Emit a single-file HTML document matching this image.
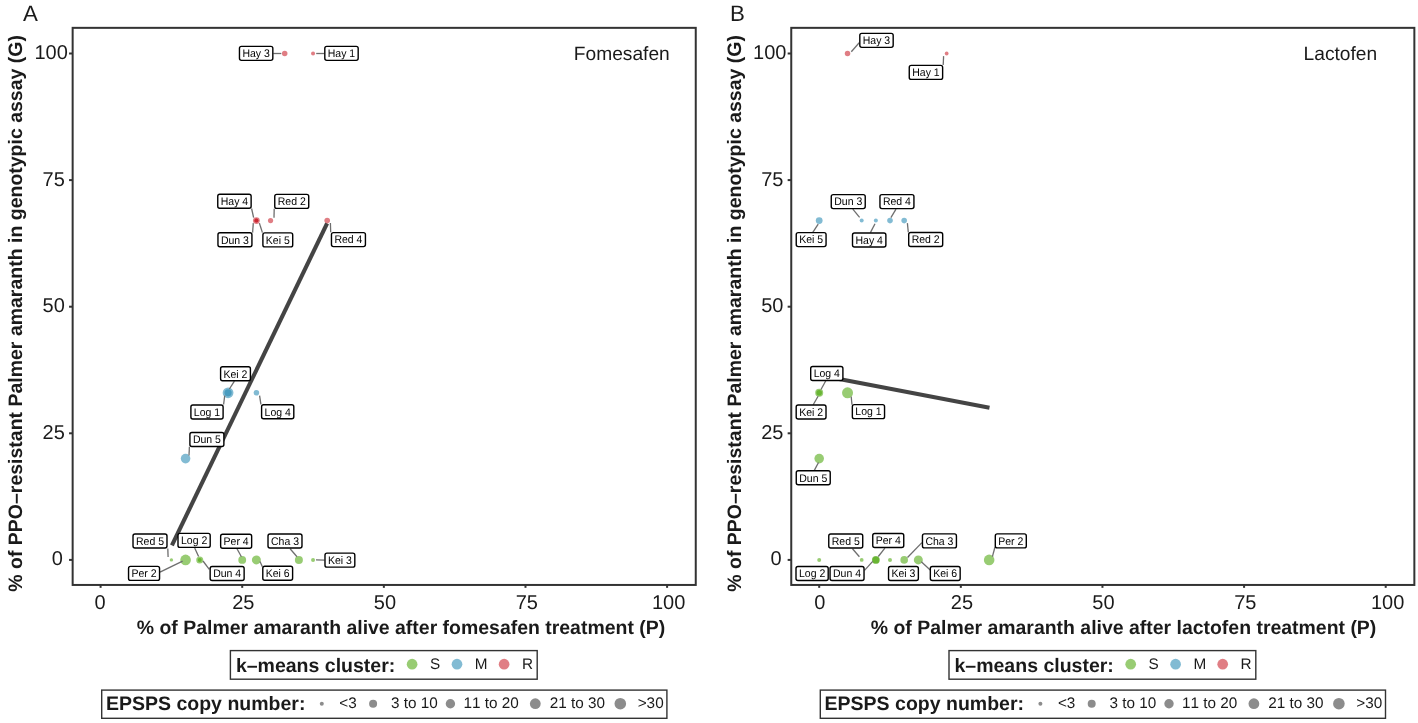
<!DOCTYPE html>
<html><head><meta charset="utf-8"><title>PPO resistance: genotypic vs phenotypic</title>
<style>html,body{margin:0;padding:0;background:#fff}svg{display:block}text{font-family:"Liberation Sans",sans-serif;font-kerning:none;font-variant-ligatures:none}</style>
</head><body><div style="will-change:transform;width:1418px;height:723px">
<svg width="1418" height="723" viewBox="0 0 1418 723" style="transform:translateZ(0)" text-rendering="geometricPrecision">
<rect width="1418" height="723" fill="#fff"/>
<g id="panelA">
<rect x="72.65" y="27.85" width="623.1" height="557.1" fill="none" stroke="#333333" stroke-width="2"/>
<line x1="69.05" y1="559.9" x2="72.65" y2="559.9" stroke="#333333" stroke-width="2"/>
<line x1="100.6" y1="584.95" x2="100.6" y2="587.85" stroke="#333333" stroke-width="2"/>
<line x1="69.05" y1="433.3" x2="72.65" y2="433.3" stroke="#333333" stroke-width="2"/>
<line x1="242.22" y1="584.95" x2="242.22" y2="587.85" stroke="#333333" stroke-width="2"/>
<line x1="69.05" y1="306.7" x2="72.65" y2="306.7" stroke="#333333" stroke-width="2"/>
<line x1="383.85" y1="584.95" x2="383.85" y2="587.85" stroke="#333333" stroke-width="2"/>
<line x1="69.05" y1="180.1" x2="72.65" y2="180.1" stroke="#333333" stroke-width="2"/>
<line x1="525.48" y1="584.95" x2="525.48" y2="587.85" stroke="#333333" stroke-width="2"/>
<line x1="69.05" y1="53.5" x2="72.65" y2="53.5" stroke="#333333" stroke-width="2"/>
<line x1="667.1" y1="584.95" x2="667.1" y2="587.85" stroke="#333333" stroke-width="2"/>
<text x="62.9" y="564.8" font-size="20.0" text-anchor="end" fill="#1a1a1a">0</text>
<text x="64.8" y="439" font-size="20.0" text-anchor="end" fill="#1a1a1a">25</text>
<text x="64.8" y="312" font-size="20.0" text-anchor="end" fill="#1a1a1a">50</text>
<text x="64.8" y="185.9" font-size="20.0" text-anchor="end" fill="#1a1a1a">75</text>
<text x="67.8" y="58.7" font-size="20.0" text-anchor="end" fill="#1a1a1a">100</text>
<text x="100.1" y="608.9" font-size="20.0" text-anchor="middle" fill="#1a1a1a">0</text>
<text x="243.3" y="608.9" font-size="20.0" text-anchor="middle" fill="#1a1a1a">25</text>
<text x="384.9" y="608.9" font-size="20.0" text-anchor="middle" fill="#1a1a1a">50</text>
<text x="526.8" y="608.9" font-size="20.0" text-anchor="middle" fill="#1a1a1a">75</text>
<text x="668.6" y="608.9" font-size="20.0" text-anchor="middle" fill="#1a1a1a">100</text>
<text x="136.8" y="633.9" font-size="19.45" font-weight="bold" textLength="528.4" lengthAdjust="spacing" fill="#1a1a1a">% of Palmer amaranth alive after fomesafen treatment (P)</text>
<text transform="translate(22.2,591.7) rotate(-90)" font-size="19.45" font-weight="bold" textLength="556.6" lengthAdjust="spacing" fill="#1a1a1a">% of PPO–resistant Palmer amaranth in genotypic assay (G)</text>
<text x="621.78" y="59.7" font-size="19.2" text-anchor="middle" fill="#1a1a1a">Fomesafen</text>
<text x="23.1" y="21" font-size="22.3" fill="#1a1a1a">A</text>
<rect x="230.4" y="650.6" width="306.8" height="28.6" fill="#fff" stroke="#333333" stroke-width="1.4"/>
<text x="235.9" y="671.5" font-size="19.5" font-weight="bold" fill="#1a1a1a">k–means cluster:</text>
<circle cx="412.1" cy="664.2" r="5.35" fill="#44A200" fill-opacity="0.55"/>
<text x="430" y="669.0" font-size="15.3" fill="#1a1a1a">S</text>
<circle cx="457" cy="664.2" r="5.35" fill="#1C83AF" fill-opacity="0.55"/>
<text x="474.8" y="669.0" font-size="15.3" fill="#1a1a1a">M</text>
<circle cx="504.1" cy="664.2" r="5.35" fill="#C7141F" fill-opacity="0.55"/>
<text x="521.9" y="669.0" font-size="15.3" fill="#1a1a1a">R</text>
<rect x="101.7" y="690.1" width="565.2" height="28.2" fill="#fff" stroke="#333333" stroke-width="1.4"/>
<text x="106" y="710.4" font-size="19.5" font-weight="bold" fill="#1a1a1a">EPSPS copy number:</text>
<circle cx="321.8" cy="703.7" r="2.0" fill="#8c8c8c"/>
<text x="339.3" y="708.1" font-size="15.3" fill="#1a1a1a">&lt;3</text>
<circle cx="373.1" cy="703.7" r="4.0" fill="#8c8c8c"/>
<text x="390.9" y="708.1" font-size="15.3" fill="#1a1a1a">3 to 10</text>
<circle cx="450.4" cy="703.7" r="4.7" fill="#8c8c8c"/>
<text x="463.4" y="708.1" font-size="15.3" fill="#1a1a1a">11 to 20</text>
<circle cx="535.3" cy="703.7" r="5.4" fill="#8c8c8c"/>
<text x="549.7" y="708.1" font-size="15.3" fill="#1a1a1a">21 to 30</text>
<circle cx="620.3" cy="703.7" r="5.8" fill="#8c8c8c"/>
<text x="637.7" y="708.1" font-size="15.3" fill="#1a1a1a">&gt;30</text>
<line x1="171.9" y1="545.4" x2="327.1" y2="223.3" stroke="#444444" stroke-width="4.1"/>
<circle cx="284.71" cy="53.5" r="2.75" fill="#C7141F" fill-opacity="0.55"/>
<circle cx="313.04" cy="53.5" r="2.0" fill="#C7141F" fill-opacity="0.55"/>
<circle cx="256.39" cy="220.61" r="3.4" fill="#C7141F" fill-opacity="0.55"/>
<circle cx="256.39" cy="220.61" r="2.0" fill="#C7141F" fill-opacity="0.55"/>
<circle cx="256.39" cy="220.61" r="2.0" fill="#C7141F" fill-opacity="0.55"/>
<circle cx="270.55" cy="220.61" r="2.6" fill="#C7141F" fill-opacity="0.55"/>
<circle cx="327.2" cy="220.61" r="2.8" fill="#C7141F" fill-opacity="0.55"/>
<circle cx="228.06" cy="392.79" r="5.4" fill="#1C83AF" fill-opacity="0.55"/>
<circle cx="228.06" cy="392.79" r="3.6" fill="#1C83AF" fill-opacity="0.55"/>
<circle cx="256.39" cy="392.79" r="2.8" fill="#1C83AF" fill-opacity="0.55"/>
<circle cx="185.57" cy="458.62" r="4.8" fill="#1C83AF" fill-opacity="0.55"/>
<circle cx="171.41" cy="559.9" r="1.7" fill="#44A200" fill-opacity="0.55"/>
<circle cx="185.57" cy="559.9" r="5.3" fill="#44A200" fill-opacity="0.55"/>
<circle cx="199.74" cy="559.9" r="3.5" fill="#44A200" fill-opacity="0.55"/>
<circle cx="199.74" cy="559.9" r="2.0" fill="#44A200" fill-opacity="0.55"/>
<circle cx="242.22" cy="559.9" r="3.9" fill="#44A200" fill-opacity="0.55"/>
<circle cx="256.39" cy="559.9" r="4.5" fill="#44A200" fill-opacity="0.55"/>
<circle cx="298.88" cy="559.9" r="4.0" fill="#44A200" fill-opacity="0.55"/>
<circle cx="313.04" cy="559.9" r="2.0" fill="#44A200" fill-opacity="0.55"/>
<line x1="273.3" y1="53.5" x2="281.3" y2="53.5" stroke="#6e6e6e" stroke-width="1.3"/>
<line x1="324.3" y1="53.5" x2="316.2" y2="53.5" stroke="#6e6e6e" stroke-width="1.3"/>
<line x1="251.6" y1="208.5" x2="253.6" y2="217.6" stroke="#6e6e6e" stroke-width="1.3"/>
<line x1="252.6" y1="232.6" x2="253.3" y2="223.1" stroke="#6e6e6e" stroke-width="1.3"/>
<line x1="262.4" y1="232.6" x2="259.4" y2="223.1" stroke="#6e6e6e" stroke-width="1.3"/>
<line x1="274.2" y1="208.7" x2="274" y2="217.7" stroke="#6e6e6e" stroke-width="1.3"/>
<line x1="330.7" y1="232.3" x2="330.4" y2="223.1" stroke="#6e6e6e" stroke-width="1.3"/>
<line x1="234.4" y1="381.2" x2="229.4" y2="389" stroke="#6e6e6e" stroke-width="1.3"/>
<line x1="223.6" y1="404.5" x2="224.7" y2="395.7" stroke="#6e6e6e" stroke-width="1.3"/>
<line x1="260.9" y1="404.3" x2="259.6" y2="395.7" stroke="#6e6e6e" stroke-width="1.3"/>
<line x1="189.4" y1="446.8" x2="189" y2="455.5" stroke="#6e6e6e" stroke-width="1.3"/>
<line x1="167.8" y1="548.4" x2="168.1" y2="557" stroke="#6e6e6e" stroke-width="1.3"/>
<line x1="160" y1="572.2" x2="182.6" y2="561.1" stroke="#6e6e6e" stroke-width="1.3"/>
<line x1="194.7" y1="548" x2="198.6" y2="556.6" stroke="#6e6e6e" stroke-width="1.3"/>
<line x1="209.3" y1="569.3" x2="203" y2="561" stroke="#6e6e6e" stroke-width="1.3"/>
<line x1="237" y1="548.8" x2="241.4" y2="556.7" stroke="#6e6e6e" stroke-width="1.3"/>
<line x1="262.4" y1="566.8" x2="260" y2="561.5" stroke="#6e6e6e" stroke-width="1.3"/>
<line x1="290.1" y1="548.8" x2="297" y2="556.7" stroke="#6e6e6e" stroke-width="1.3"/>
<line x1="324.5" y1="560.1" x2="316" y2="559.9" stroke="#6e6e6e" stroke-width="1.3"/>
<rect x="239.46" y="46.35" width="33.37" height="14" rx="2.0" ry="2.0" fill="#fff" stroke="#000" stroke-width="1.4"/>
<text x="256.15" y="57.15" font-size="11.1" text-anchor="middle" textLength="27.43" lengthAdjust="spacingAndGlyphs" fill="#000">Hay 3</text>
<rect x="324.81" y="46.35" width="33.37" height="14" rx="2.0" ry="2.0" fill="#fff" stroke="#000" stroke-width="1.4"/>
<text x="341.5" y="57.15" font-size="11.1" text-anchor="middle" textLength="27.43" lengthAdjust="spacingAndGlyphs" fill="#000">Hay 1</text>
<rect x="217.76" y="194.3" width="33.37" height="14" rx="2.0" ry="2.0" fill="#fff" stroke="#000" stroke-width="1.4"/>
<text x="234.45" y="205.1" font-size="11.1" text-anchor="middle" textLength="27.43" lengthAdjust="spacingAndGlyphs" fill="#000">Hay 4</text>
<rect x="274.76" y="194.4" width="33.97" height="14" rx="2.0" ry="2.0" fill="#fff" stroke="#000" stroke-width="1.4"/>
<text x="291.75" y="205.2" font-size="11.1" text-anchor="middle" textLength="28.02" lengthAdjust="spacingAndGlyphs" fill="#000">Red 2</text>
<rect x="217.96" y="232.75" width="33.97" height="14" rx="2.0" ry="2.0" fill="#fff" stroke="#000" stroke-width="1.4"/>
<text x="234.95" y="243.55" font-size="11.1" text-anchor="middle" textLength="28.02" lengthAdjust="spacingAndGlyphs" fill="#000">Dun 3</text>
<rect x="262.89" y="232.9" width="29.82" height="14" rx="2.0" ry="2.0" fill="#fff" stroke="#000" stroke-width="1.4"/>
<text x="277.8" y="243.7" font-size="11.1" text-anchor="middle" textLength="23.93" lengthAdjust="spacingAndGlyphs" fill="#000">Kei 5</text>
<rect x="331.46" y="232.6" width="33.97" height="14" rx="2.0" ry="2.0" fill="#fff" stroke="#000" stroke-width="1.4"/>
<text x="348.45" y="243.4" font-size="11.1" text-anchor="middle" textLength="28.02" lengthAdjust="spacingAndGlyphs" fill="#000">Red 4</text>
<rect x="220.59" y="366.75" width="29.82" height="14" rx="2.0" ry="2.0" fill="#fff" stroke="#000" stroke-width="1.4"/>
<text x="235.5" y="377.55" font-size="11.1" text-anchor="middle" textLength="23.93" lengthAdjust="spacingAndGlyphs" fill="#000">Kei 2</text>
<rect x="190.9" y="404.95" width="32.2" height="14" rx="2.0" ry="2.0" fill="#fff" stroke="#000" stroke-width="1.4"/>
<text x="207" y="415.75" font-size="11.1" text-anchor="middle" textLength="26.28" lengthAdjust="spacingAndGlyphs" fill="#000">Log 1</text>
<rect x="261.6" y="404.8" width="32.2" height="14" rx="2.0" ry="2.0" fill="#fff" stroke="#000" stroke-width="1.4"/>
<text x="277.7" y="415.6" font-size="11.1" text-anchor="middle" textLength="26.28" lengthAdjust="spacingAndGlyphs" fill="#000">Log 4</text>
<rect x="189.91" y="432.5" width="33.97" height="14" rx="2.0" ry="2.0" fill="#fff" stroke="#000" stroke-width="1.4"/>
<text x="206.9" y="443.3" font-size="11.1" text-anchor="middle" textLength="28.02" lengthAdjust="spacingAndGlyphs" fill="#000">Dun 5</text>
<rect x="133.01" y="534.05" width="33.97" height="14" rx="2.0" ry="2.0" fill="#fff" stroke="#000" stroke-width="1.4"/>
<text x="150" y="544.85" font-size="11.1" text-anchor="middle" textLength="28.02" lengthAdjust="spacingAndGlyphs" fill="#000">Red 5</text>
<rect x="178" y="533.4" width="32.2" height="14" rx="2.0" ry="2.0" fill="#fff" stroke="#000" stroke-width="1.4"/>
<text x="194.1" y="544.2" font-size="11.1" text-anchor="middle" textLength="26.28" lengthAdjust="spacingAndGlyphs" fill="#000">Log 2</text>
<rect x="220.65" y="534.25" width="31" height="14" rx="2.0" ry="2.0" fill="#fff" stroke="#000" stroke-width="1.4"/>
<text x="236.15" y="545.05" font-size="11.1" text-anchor="middle" textLength="25.1" lengthAdjust="spacingAndGlyphs" fill="#000">Per 4</text>
<rect x="268.01" y="534" width="33.97" height="14" rx="2.0" ry="2.0" fill="#fff" stroke="#000" stroke-width="1.4"/>
<text x="285" y="544.8" font-size="11.1" text-anchor="middle" textLength="28.02" lengthAdjust="spacingAndGlyphs" fill="#000">Cha 3</text>
<rect x="324.99" y="553.15" width="29.82" height="14" rx="2.0" ry="2.0" fill="#fff" stroke="#000" stroke-width="1.4"/>
<text x="339.9" y="563.95" font-size="11.1" text-anchor="middle" textLength="23.93" lengthAdjust="spacingAndGlyphs" fill="#000">Kei 3</text>
<rect x="128.55" y="566.4" width="31" height="14" rx="2.0" ry="2.0" fill="#fff" stroke="#000" stroke-width="1.4"/>
<text x="144.05" y="577.2" font-size="11.1" text-anchor="middle" textLength="25.1" lengthAdjust="spacingAndGlyphs" fill="#000">Per 2</text>
<rect x="210.16" y="566.5" width="33.97" height="14" rx="2.0" ry="2.0" fill="#fff" stroke="#000" stroke-width="1.4"/>
<text x="227.15" y="577.3" font-size="11.1" text-anchor="middle" textLength="28.02" lengthAdjust="spacingAndGlyphs" fill="#000">Dun 4</text>
<rect x="262.79" y="566.25" width="29.82" height="14" rx="2.0" ry="2.0" fill="#fff" stroke="#000" stroke-width="1.4"/>
<text x="277.7" y="577.05" font-size="11.1" text-anchor="middle" textLength="23.93" lengthAdjust="spacingAndGlyphs" fill="#000">Kei 6</text>
</g>
<g id="panelB">
<rect x="791.25" y="27.85" width="623.1" height="557.1" fill="none" stroke="#333333" stroke-width="2"/>
<line x1="787.65" y1="559.9" x2="791.25" y2="559.9" stroke="#333333" stroke-width="2"/>
<line x1="819.2" y1="584.95" x2="819.2" y2="587.85" stroke="#333333" stroke-width="2"/>
<line x1="787.65" y1="433.3" x2="791.25" y2="433.3" stroke="#333333" stroke-width="2"/>
<line x1="960.83" y1="584.95" x2="960.83" y2="587.85" stroke="#333333" stroke-width="2"/>
<line x1="787.65" y1="306.7" x2="791.25" y2="306.7" stroke="#333333" stroke-width="2"/>
<line x1="1102.45" y1="584.95" x2="1102.45" y2="587.85" stroke="#333333" stroke-width="2"/>
<line x1="787.65" y1="180.1" x2="791.25" y2="180.1" stroke="#333333" stroke-width="2"/>
<line x1="1244.08" y1="584.95" x2="1244.08" y2="587.85" stroke="#333333" stroke-width="2"/>
<line x1="787.65" y1="53.5" x2="791.25" y2="53.5" stroke="#333333" stroke-width="2"/>
<line x1="1385.7" y1="584.95" x2="1385.7" y2="587.85" stroke="#333333" stroke-width="2"/>
<text x="781.5" y="564.8" font-size="20.0" text-anchor="end" fill="#1a1a1a">0</text>
<text x="783.4" y="439" font-size="20.0" text-anchor="end" fill="#1a1a1a">25</text>
<text x="783.4" y="312" font-size="20.0" text-anchor="end" fill="#1a1a1a">50</text>
<text x="783.4" y="185.9" font-size="20.0" text-anchor="end" fill="#1a1a1a">75</text>
<text x="786.4" y="58.7" font-size="20.0" text-anchor="end" fill="#1a1a1a">100</text>
<text x="819.8" y="608.9" font-size="20.0" text-anchor="middle" fill="#1a1a1a">0</text>
<text x="961.9" y="608.9" font-size="20.0" text-anchor="middle" fill="#1a1a1a">25</text>
<text x="1103.4" y="608.9" font-size="20.0" text-anchor="middle" fill="#1a1a1a">50</text>
<text x="1245.3" y="608.9" font-size="20.0" text-anchor="middle" fill="#1a1a1a">75</text>
<text x="1387.7" y="608.9" font-size="20.0" text-anchor="middle" fill="#1a1a1a">100</text>
<text x="870.8" y="633.9" font-size="19.45" font-weight="bold" textLength="505.5" lengthAdjust="spacing" fill="#1a1a1a">% of Palmer amaranth alive after lactofen treatment (P)</text>
<text transform="translate(740.8,591.7) rotate(-90)" font-size="19.45" font-weight="bold" textLength="556.6" lengthAdjust="spacing" fill="#1a1a1a">% of PPO–resistant Palmer amaranth in genotypic assay (G)</text>
<text x="1340.38" y="59.7" font-size="19.2" text-anchor="middle" fill="#1a1a1a">Lactofen</text>
<text x="730" y="21" font-size="22.3" fill="#1a1a1a">B</text>
<rect x="949" y="650.6" width="306.8" height="28.6" fill="#fff" stroke="#333333" stroke-width="1.4"/>
<text x="954.5" y="671.5" font-size="19.5" font-weight="bold" fill="#1a1a1a">k–means cluster:</text>
<circle cx="1130.7" cy="664.2" r="5.35" fill="#44A200" fill-opacity="0.55"/>
<text x="1148.6" y="669.0" font-size="15.3" fill="#1a1a1a">S</text>
<circle cx="1175.6" cy="664.2" r="5.35" fill="#1C83AF" fill-opacity="0.55"/>
<text x="1193.4" y="669.0" font-size="15.3" fill="#1a1a1a">M</text>
<circle cx="1222.7" cy="664.2" r="5.35" fill="#C7141F" fill-opacity="0.55"/>
<text x="1240.5" y="669.0" font-size="15.3" fill="#1a1a1a">R</text>
<rect x="820.3" y="690.1" width="565.2" height="28.2" fill="#fff" stroke="#333333" stroke-width="1.4"/>
<text x="824.6" y="710.4" font-size="19.5" font-weight="bold" fill="#1a1a1a">EPSPS copy number:</text>
<circle cx="1040.4" cy="703.7" r="2.0" fill="#8c8c8c"/>
<text x="1057.9" y="708.1" font-size="15.3" fill="#1a1a1a">&lt;3</text>
<circle cx="1091.7" cy="703.7" r="4.0" fill="#8c8c8c"/>
<text x="1109.5" y="708.1" font-size="15.3" fill="#1a1a1a">3 to 10</text>
<circle cx="1169" cy="703.7" r="4.7" fill="#8c8c8c"/>
<text x="1182" y="708.1" font-size="15.3" fill="#1a1a1a">11 to 20</text>
<circle cx="1253.9" cy="703.7" r="5.4" fill="#8c8c8c"/>
<text x="1268.3" y="708.1" font-size="15.3" fill="#1a1a1a">21 to 30</text>
<circle cx="1338.9" cy="703.7" r="5.8" fill="#8c8c8c"/>
<text x="1356.3" y="708.1" font-size="15.3" fill="#1a1a1a">&gt;30</text>
<line x1="819.5" y1="375.2" x2="989.5" y2="407.7" stroke="#444444" stroke-width="4.1"/>
<circle cx="847.53" cy="53.5" r="2.75" fill="#C7141F" fill-opacity="0.55"/>
<circle cx="946.66" cy="53.5" r="1.9" fill="#C7141F" fill-opacity="0.55"/>
<circle cx="819.2" cy="220.61" r="3.4" fill="#1C83AF" fill-opacity="0.55"/>
<circle cx="861.69" cy="220.61" r="2.0" fill="#1C83AF" fill-opacity="0.55"/>
<circle cx="875.85" cy="220.61" r="2.0" fill="#1C83AF" fill-opacity="0.55"/>
<circle cx="890.01" cy="220.61" r="2.8" fill="#1C83AF" fill-opacity="0.55"/>
<circle cx="904.18" cy="220.61" r="2.8" fill="#1C83AF" fill-opacity="0.55"/>
<circle cx="819.2" cy="392.79" r="4.0" fill="#44A200" fill-opacity="0.55"/>
<circle cx="819.2" cy="392.79" r="2.8" fill="#44A200" fill-opacity="0.55"/>
<circle cx="847.53" cy="392.79" r="5.5" fill="#44A200" fill-opacity="0.55"/>
<circle cx="819.2" cy="458.62" r="4.8" fill="#44A200" fill-opacity="0.55"/>
<circle cx="819.2" cy="559.9" r="2.0" fill="#44A200" fill-opacity="0.55"/>
<circle cx="861.69" cy="559.9" r="1.9" fill="#44A200" fill-opacity="0.55"/>
<circle cx="875.85" cy="559.9" r="3.9" fill="#44A200" fill-opacity="0.55"/>
<circle cx="875.85" cy="559.9" r="3.5" fill="#44A200" fill-opacity="0.55"/>
<circle cx="890.01" cy="559.9" r="2.0" fill="#44A200" fill-opacity="0.55"/>
<circle cx="904.18" cy="559.9" r="3.8" fill="#44A200" fill-opacity="0.55"/>
<circle cx="918.34" cy="559.9" r="4.5" fill="#44A200" fill-opacity="0.55"/>
<circle cx="989.15" cy="559.9" r="5.3" fill="#44A200" fill-opacity="0.55"/>
<line x1="859.2" y1="42.8" x2="851.3" y2="51.7" stroke="#6e6e6e" stroke-width="1.3"/>
<line x1="943.2" y1="65" x2="943.6" y2="56.1" stroke="#6e6e6e" stroke-width="1.3"/>
<line x1="812.8" y1="232.3" x2="818.2" y2="224.1" stroke="#6e6e6e" stroke-width="1.3"/>
<line x1="852.8" y1="209.1" x2="859.6" y2="217.4" stroke="#6e6e6e" stroke-width="1.3"/>
<line x1="870.4" y1="232.6" x2="875" y2="223.7" stroke="#6e6e6e" stroke-width="1.3"/>
<line x1="896" y1="209.1" x2="890.9" y2="217.7" stroke="#6e6e6e" stroke-width="1.3"/>
<line x1="908.3" y1="232.2" x2="907.4" y2="223.1" stroke="#6e6e6e" stroke-width="1.3"/>
<line x1="825.8" y1="380.8" x2="821" y2="389.5" stroke="#6e6e6e" stroke-width="1.3"/>
<line x1="813.2" y1="404.8" x2="818.1" y2="396.3" stroke="#6e6e6e" stroke-width="1.3"/>
<line x1="852" y1="404.8" x2="851.2" y2="396.6" stroke="#6e6e6e" stroke-width="1.3"/>
<line x1="814.2" y1="470.6" x2="818.5" y2="462.5" stroke="#6e6e6e" stroke-width="1.3"/>
<line x1="852.5" y1="548.8" x2="859.4" y2="556.7" stroke="#6e6e6e" stroke-width="1.3"/>
<line x1="884.9" y1="548.2" x2="878.3" y2="556.5" stroke="#6e6e6e" stroke-width="1.3"/>
<line x1="864.5" y1="570.4" x2="872.7" y2="561.4" stroke="#6e6e6e" stroke-width="1.3"/>
<line x1="921.9" y1="542.6" x2="907.5" y2="557.5" stroke="#6e6e6e" stroke-width="1.3"/>
<line x1="930.2" y1="570" x2="921.3" y2="561.7" stroke="#6e6e6e" stroke-width="1.3"/>
<line x1="995" y1="547" x2="992.4" y2="556.7" stroke="#6e6e6e" stroke-width="1.3"/>
<rect x="859.81" y="33.35" width="33.37" height="14" rx="2.0" ry="2.0" fill="#fff" stroke="#000" stroke-width="1.4"/>
<text x="876.5" y="44.15" font-size="11.1" text-anchor="middle" textLength="27.43" lengthAdjust="spacingAndGlyphs" fill="#000">Hay 3</text>
<rect x="909.26" y="65.4" width="33.37" height="14" rx="2.0" ry="2.0" fill="#fff" stroke="#000" stroke-width="1.4"/>
<text x="925.95" y="76.2" font-size="11.1" text-anchor="middle" textLength="27.43" lengthAdjust="spacingAndGlyphs" fill="#000">Hay 1</text>
<rect x="831.26" y="194.6" width="33.97" height="14" rx="2.0" ry="2.0" fill="#fff" stroke="#000" stroke-width="1.4"/>
<text x="848.25" y="205.4" font-size="11.1" text-anchor="middle" textLength="28.02" lengthAdjust="spacingAndGlyphs" fill="#000">Dun 3</text>
<rect x="879.96" y="194.6" width="33.97" height="14" rx="2.0" ry="2.0" fill="#fff" stroke="#000" stroke-width="1.4"/>
<text x="896.95" y="205.4" font-size="11.1" text-anchor="middle" textLength="28.02" lengthAdjust="spacingAndGlyphs" fill="#000">Red 4</text>
<rect x="796.24" y="232.6" width="29.82" height="14" rx="2.0" ry="2.0" fill="#fff" stroke="#000" stroke-width="1.4"/>
<text x="811.15" y="243.4" font-size="11.1" text-anchor="middle" textLength="23.93" lengthAdjust="spacingAndGlyphs" fill="#000">Kei 5</text>
<rect x="852.51" y="233.05" width="33.37" height="14" rx="2.0" ry="2.0" fill="#fff" stroke="#000" stroke-width="1.4"/>
<text x="869.2" y="243.85" font-size="11.1" text-anchor="middle" textLength="27.43" lengthAdjust="spacingAndGlyphs" fill="#000">Hay 4</text>
<rect x="908.71" y="232.55" width="33.97" height="14" rx="2.0" ry="2.0" fill="#fff" stroke="#000" stroke-width="1.4"/>
<text x="925.7" y="243.35" font-size="11.1" text-anchor="middle" textLength="28.02" lengthAdjust="spacingAndGlyphs" fill="#000">Red 2</text>
<rect x="810.7" y="366.5" width="32.2" height="14" rx="2.0" ry="2.0" fill="#fff" stroke="#000" stroke-width="1.4"/>
<text x="826.8" y="377.3" font-size="11.1" text-anchor="middle" textLength="26.28" lengthAdjust="spacingAndGlyphs" fill="#000">Log 4</text>
<rect x="796.19" y="405.05" width="29.82" height="14" rx="2.0" ry="2.0" fill="#fff" stroke="#000" stroke-width="1.4"/>
<text x="811.1" y="415.85" font-size="11.1" text-anchor="middle" textLength="23.93" lengthAdjust="spacingAndGlyphs" fill="#000">Kei 2</text>
<rect x="852.35" y="404.65" width="32.2" height="14" rx="2.0" ry="2.0" fill="#fff" stroke="#000" stroke-width="1.4"/>
<text x="868.45" y="415.45" font-size="11.1" text-anchor="middle" textLength="26.28" lengthAdjust="spacingAndGlyphs" fill="#000">Log 1</text>
<rect x="796.26" y="470.7" width="33.97" height="14" rx="2.0" ry="2.0" fill="#fff" stroke="#000" stroke-width="1.4"/>
<text x="813.25" y="481.5" font-size="11.1" text-anchor="middle" textLength="28.02" lengthAdjust="spacingAndGlyphs" fill="#000">Dun 5</text>
<rect x="828.76" y="533.95" width="33.97" height="14" rx="2.0" ry="2.0" fill="#fff" stroke="#000" stroke-width="1.4"/>
<text x="845.75" y="544.75" font-size="11.1" text-anchor="middle" textLength="28.02" lengthAdjust="spacingAndGlyphs" fill="#000">Red 5</text>
<rect x="872.75" y="533.5" width="31" height="14" rx="2.0" ry="2.0" fill="#fff" stroke="#000" stroke-width="1.4"/>
<text x="888.25" y="544.3" font-size="11.1" text-anchor="middle" textLength="25.1" lengthAdjust="spacingAndGlyphs" fill="#000">Per 4</text>
<rect x="922.46" y="533.9" width="33.97" height="14" rx="2.0" ry="2.0" fill="#fff" stroke="#000" stroke-width="1.4"/>
<text x="939.45" y="544.7" font-size="11.1" text-anchor="middle" textLength="28.02" lengthAdjust="spacingAndGlyphs" fill="#000">Cha 3</text>
<rect x="995.3" y="533.9" width="31" height="14" rx="2.0" ry="2.0" fill="#fff" stroke="#000" stroke-width="1.4"/>
<text x="1010.8" y="544.7" font-size="11.1" text-anchor="middle" textLength="25.1" lengthAdjust="spacingAndGlyphs" fill="#000">Per 2</text>
<rect x="796" y="566.5" width="32.2" height="14" rx="2.0" ry="2.0" fill="#fff" stroke="#000" stroke-width="1.4"/>
<text x="812.1" y="577.3" font-size="11.1" text-anchor="middle" textLength="26.28" lengthAdjust="spacingAndGlyphs" fill="#000">Log 2</text>
<rect x="830.06" y="566.5" width="33.97" height="14" rx="2.0" ry="2.0" fill="#fff" stroke="#000" stroke-width="1.4"/>
<text x="847.05" y="577.3" font-size="11.1" text-anchor="middle" textLength="28.02" lengthAdjust="spacingAndGlyphs" fill="#000">Dun 4</text>
<rect x="888.54" y="566.5" width="29.82" height="14" rx="2.0" ry="2.0" fill="#fff" stroke="#000" stroke-width="1.4"/>
<text x="903.45" y="577.3" font-size="11.1" text-anchor="middle" textLength="23.93" lengthAdjust="spacingAndGlyphs" fill="#000">Kei 3</text>
<rect x="930.34" y="566.5" width="29.82" height="14" rx="2.0" ry="2.0" fill="#fff" stroke="#000" stroke-width="1.4"/>
<text x="945.25" y="577.3" font-size="11.1" text-anchor="middle" textLength="23.93" lengthAdjust="spacingAndGlyphs" fill="#000">Kei 6</text>
</g>
</svg>
</div></body></html>
